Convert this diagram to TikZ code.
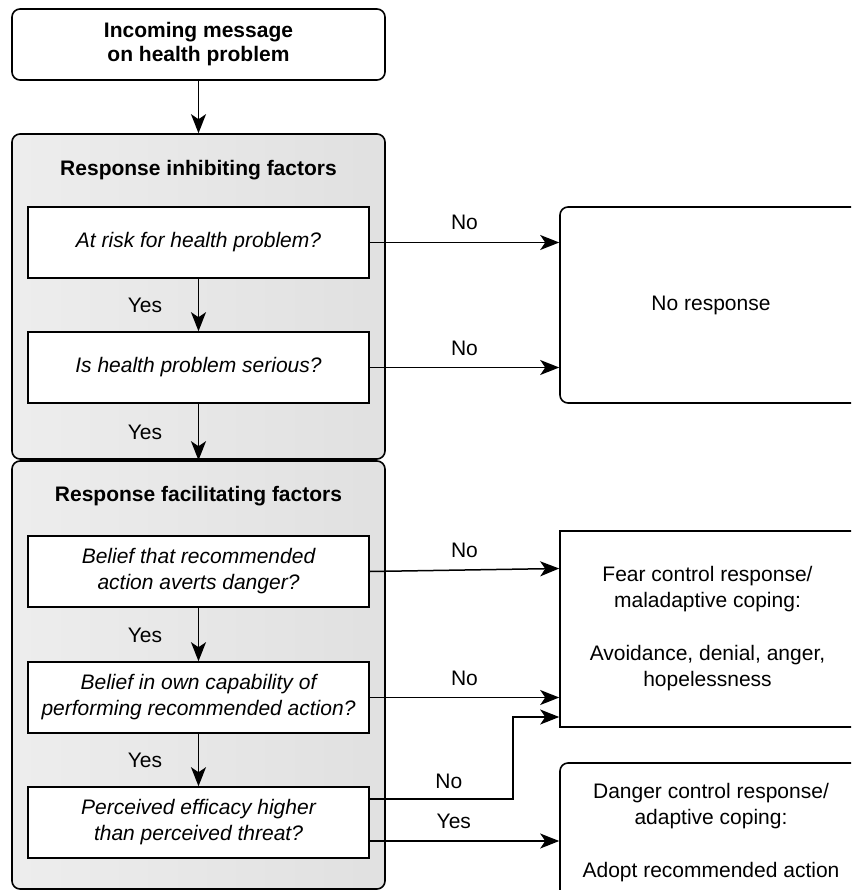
\documentclass[tikz,border=0pt]{standalone}
\usepackage{fontspec}
\setmainfont{Liberation Sans}
\usetikzlibrary{arrows.meta,calc}
\begin{document}
\begin{tikzpicture}[x=1pt,y=-1pt,
  txt/.style={font=\fontsize{21}{26}\selectfont, align=center},
  box/.style={draw, line width=1.6pt, inner sep=0pt, txt},
  qbox/.style={box, fill=white, minimum width=341pt, minimum height=71pt, font=\fontsize{21}{26}\selectfont\itshape},
  grp/.style={draw, line width=1.6pt, rounded corners=8pt, inner sep=0pt, shading=axis, left color=gray!14, middle color=white, right color=gray!24},
  arr/.style={line width=1.5pt, -{Stealth[length=19pt,width=15pt,inset=5pt]}},
  lbl/.style={txt, anchor=base}]
\clip (0,0) rectangle (851,890);
\fill[white] (0,0) rectangle (851,890);
% groups
\node[grp, minimum width=373pt, minimum height=325pt] (g1) at (198.5,296.5) {};
\node[grp, minimum width=373pt, minimum height=428pt] (g2) at (198.5,675) {};
\node[txt, font=\fontsize{21}{26}\selectfont\bfseries] (t1) at (198.5,170) {Response inhibiting factors};
\node[txt, font=\fontsize{21}{26}\selectfont\bfseries] (t2) at (198.5,496) {Response facilitating factors};
% top box
\node[box, rounded corners=8pt, fill=white, minimum width=373pt, minimum height=71pt, font=\fontsize{21}{24}\selectfont\bfseries] (inc) at (198.5,44.5) {Incoming message\\on health problem};
% question boxes
\node[qbox] (b1) at (198.5,242.5) {At risk for health problem?};
\node[qbox] (b2) at (198.5,367.5) {Is health problem serious?};
\node[qbox] (b3) at (198.5,571.5) {Belief that recommended\\action averts danger?};
\node[qbox] (b4) at (198.5,697.5) {Belief in own capability of\\performing recommended action?};
\node[qbox] (b5) at (198.5,822.5) {Perceived efficacy higher\\than perceived threat?};
% outcome boxes
\node[box, rounded corners=8pt, fill=white, minimum width=302pt, minimum height=196pt] (nr) at (711,305) {No response};
\node[box, fill=white, minimum width=295pt, minimum height=196pt] (fear) at (707.5,629) {Fear control response/\\maladaptive coping:\\[27pt]Avoidance, denial, anger,\\hopelessness};
\node[box, rounded corners=8pt, fill=white, minimum width=302pt, minimum height=140pt] (danger) at (711,833) {Danger control response/\\adaptive coping:\\[27pt]Adopt recommended action};
% vertical arrows
\draw[arr] (inc.south) -- (g1.north);
\draw[arr] (b1.south) -- (b2.north) node[lbl, midway, xshift=-53.5pt, yshift=-7.5pt] (y1) {Yes};
\draw[arr] (b2.south) -- (g2.north) node[lbl, midway, xshift=-53.5pt, yshift=-7.5pt] (y2) {Yes};
\draw[arr] (b3.south) -- (b4.north) node[lbl, midway, xshift=-53.5pt, yshift=-7.5pt] (y3) {Yes};
\draw[arr] (b4.south) -- (b5.north) node[lbl, midway, xshift=-53.5pt, yshift=-7.5pt] (y4) {Yes};
% horizontal arrows
\draw[arr] (b1.east) -- (b1.east -| nr.west) node[lbl, midway, yshift=12.5pt] (n1) {No};
\draw[arr] (b2.east) -- (b2.east -| nr.west) node[lbl, midway, yshift=12.5pt] (n2) {No};
\draw[arr] (b3.east) -- ([yshift=3pt]b3.east -| fear.west) node[lbl, midway, yshift=12.5pt] (n3) {No};
\draw[arr] (b4.east) -- (b4.east -| fear.west) node[lbl, midway, yshift=12.5pt] (n4) {No};
\draw[arr] ([yshift=23.5pt]b5.east) -- ++(143,0) coordinate (k) |- ([yshift=-88pt]fear.west);
\node[lbl] (n5) at ([xshift=79pt,yshift=34.5pt]b5.east) {No};
\draw[arr] ([yshift=-18.5pt]b5.east) -- ([yshift=-18.5pt]b5.east -| danger.west);
\node[lbl] (y5) at ([xshift=84pt,yshift=-5.5pt]b5.east) {Yes};
\end{tikzpicture}
\end{document}
